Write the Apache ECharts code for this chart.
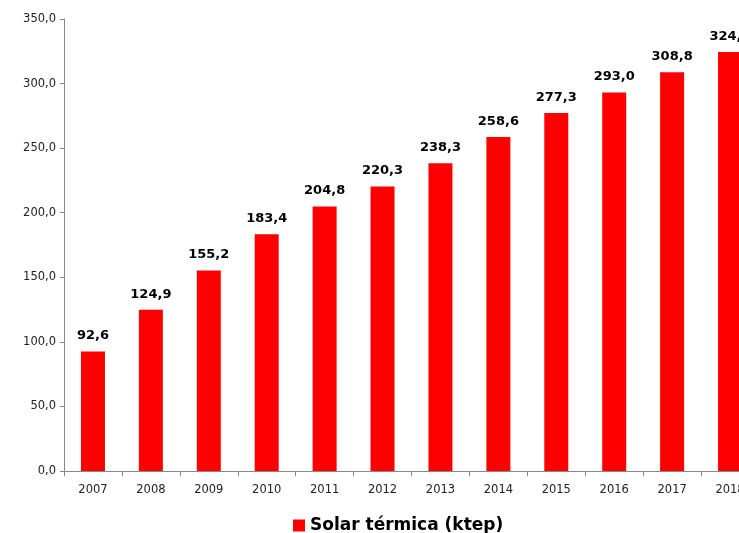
<!DOCTYPE html>
<html><head><meta charset="utf-8">
<script src="https://cdn.jsdelivr.net/npm/echarts@6/dist/echarts.min.js"></script>
<style>html,body{margin:0;padding:0;background:#fff;overflow:hidden;width:739px;height:533px}#c{width:800px;height:533px}</style>
</head><body><div id="c"></div>
<script>
const years = ['2007','2008','2009','2010','2011','2012','2013','2014','2015','2016','2017','2018'];
const solarTermica = [92.6,124.9,155.2,183.4,204.8,220.3,238.3,258.6,277.3,293.0,308.8,324.4];
const seriesName = 'Solar térmica (ktep)';
const fmt = v => v.toFixed(1).replace('.', ',');
const chart = echarts.init(document.getElementById('c'));
chart.setOption({
  animation:false,
  grid:{left:64, top:19, width:695, height:452, containLabel:false},
  legend:{top:512, left:288, itemWidth:12, itemHeight:12, itemGap:6, icon:'rect',
    textStyle:{fontFamily:'DejaVu Sans', fontWeight:'bold', fontSize:17, color:'#000'},
    data:[seriesName]},
  xAxis:{type:'category', data:years,
    axisLine:{lineStyle:{color:'#888', width:1}},
    axisTick:{show:true, length:5, lineStyle:{color:'#888'}},
    axisLabel:{fontFamily:'DejaVu Sans', fontSize:11.5, color:'#222', margin:13}},
  yAxis:{type:'value', min:0, max:350, interval:50,
    axisLine:{show:true, lineStyle:{color:'#888', width:1}},
    axisTick:{show:true, length:4, lineStyle:{color:'#888'}},
    splitLine:{show:false},
    axisLabel:{fontFamily:'DejaVu Sans', fontSize:11.5, color:'#222', margin:8, formatter:v=>fmt(v)}},
  series:[{name:seriesName, type:'bar', data:solarTermica, barWidth:24,
    itemStyle:{color:'#ff0000'},
    label:{show:true, position:'top', distance:9, fontFamily:'DejaVu Sans', fontWeight:'bold', fontSize:13, color:'#000',
      formatter:p=>fmt(p.value)}}]
});
</script></body></html>
